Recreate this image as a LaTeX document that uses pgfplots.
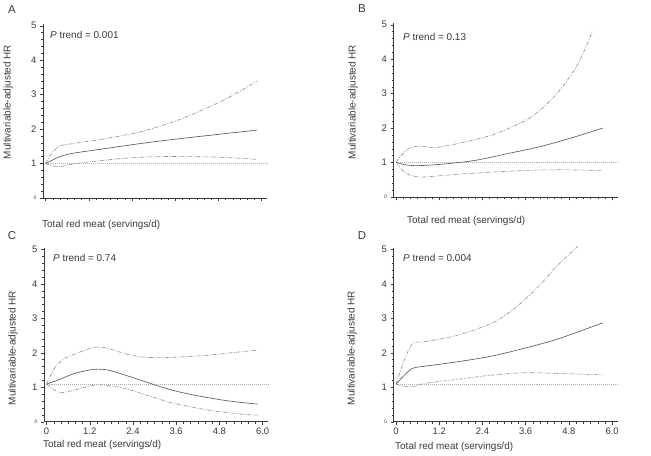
\documentclass[border=0pt]{standalone}
\usepackage{fontspec}
\setmainfont{Liberation Sans}
\usepackage{pgfplots}
\pgfplotsset{compat=1.18}

\definecolor{axgray}{HTML}{3A3A3A}
\definecolor{midc}{HTML}{5A5A5A}
\definecolor{cic}{HTML}{8F8F8F}
\definecolor{refc}{HTML}{B0B0B0}

\pgfplotsset{
 panel/.style={
  scale only axis, width=224bp, height=174bp,
  xmin=-0.07, xmax=6.15, ymin=0, ymax=5.05,
  axis lines=left, axis line style={-, axgray, line width=0.6pt},
  tick align=outside, tick style={axgray, line width=0.4pt},
  major tick length=3bp, minor tick length=2bp,
  xtick={0,1.2,2.4,3.6,4.8,6.0}, minor x tick num=5,
  ytick={0,1,2,3,4,5}, minor y tick num=4,
  yticklabels={{\fontsize{5}{5}\selectfont 0},1,2,3,4,5},
  tick label style={font=\fontsize{9.5}{11}\selectfont, text=axgray},
  /pgf/number format/assume math mode=true,
  clip=false,
 },
 midline/.style={midc, line width=0.65pt, smooth, no markers},
 ciline/.style={cic, line width=0.6pt, smooth, no markers, dash pattern=on 4pt off 1.5pt on 1pt off 1.5pt},
 refline/.style={refc, line width=0.6pt, no markers, dash pattern=on 0.8pt off 1.2pt},
}

\newcommand{\lab}{\fontsize{10}{12}\selectfont\color{axgray}}

\begin{document}
\begin{tikzpicture}
\useasboundingbox (0,0) rectangle (651bp,-456bp);

% ---------- A ----------
\begin{axis}[panel, at={(43bp,-198bp)}, anchor=south west, xticklabels={}]
\addplot[refline] coordinates {(0,1.01) (6.15,1.01)};
\addplot[ciline] coordinates {(0,1.0) (0.17,1.30) (0.40,1.51) (0.77,1.58) (1.70,1.73) (2.63,1.92) (3.55,2.21) (4.01,2.40) (4.48,2.61) (4.94,2.84) (5.40,3.10) (5.87,3.39)};
\addplot[midline] coordinates {(0,1.0) (0.40,1.20) (0.77,1.30) (1.70,1.44) (2.63,1.58) (3.55,1.70) (4.48,1.81) (5.87,1.97)};
\addplot[ciline] coordinates {(0,1.0) (0.17,0.94) (0.40,0.91) (0.77,0.99) (1.23,1.05) (2.16,1.15) (3.09,1.20) (4.01,1.20) (4.94,1.18) (5.87,1.12)};
\end{axis}

% ---------- B ----------
\begin{axis}[panel, at={(393.5bp,-197bp)}, anchor=south west, xticklabels={}]
\addplot[refline] coordinates {(0,1.01) (6.15,1.01)};
\addplot[ciline] coordinates {(0,1.01) (0.23,1.30) (0.46,1.45) (0.79,1.47) (1.07,1.43) (1.71,1.55) (2.64,1.79) (3.56,2.20) (4.03,2.55) (4.49,3.03) (4.95,3.68) (5.23,4.25) (5.46,4.83)};
\addplot[midline] coordinates {(0,1.01) (0.23,0.94) (0.60,0.91) (1.25,0.95) (2.18,1.06) (3.10,1.26) (4.03,1.47) (4.95,1.74) (5.74,2.00)};
\addplot[ciline] coordinates {(0,1.01) (0.23,0.72) (0.51,0.60) (0.79,0.58) (1.71,0.66) (2.64,0.72) (3.56,0.77) (4.49,0.79) (5.74,0.77)};
\end{axis}

% ---------- C ----------
\begin{axis}[panel, at={(44bp,-421.7bp)}, anchor=south west, xticklabels={0,1.2,2.4,3.6,4.8,6.0}]
\addplot[refline] coordinates {(0,1.09) (6.15,1.09)};
\addplot[ciline] coordinates {(0,1.09) (0.22,1.55) (0.50,1.84) (0.78,1.96) (1.33,2.16) (1.70,2.13) (2.16,1.98) (2.63,1.88) (3.09,1.86) (3.55,1.87) (4.48,1.93) (5.40,2.03) (5.87,2.08)};
\addplot[midline] coordinates {(0,1.09) (0.32,1.21) (0.78,1.40) (1.33,1.52) (1.70,1.50) (2.16,1.36) (2.63,1.20) (3.09,1.04) (3.55,0.90) (4.01,0.79) (4.48,0.70) (4.94,0.62) (5.40,0.56) (5.87,0.51)};
\addplot[ciline] coordinates {(0,1.09) (0.22,0.92) (0.41,0.84) (0.78,0.92) (1.33,1.06) (1.70,1.05) (2.16,0.97) (2.63,0.82) (3.09,0.67) (3.55,0.53) (4.48,0.34) (5.40,0.22) (5.87,0.19)};
\end{axis}

% ---------- D ----------
\begin{axis}[panel, at={(393.5bp,-421.7bp)}, anchor=south west, xticklabels={0,1.2,2.4,3.6,4.8,6.0}]
\addplot[refline] coordinates {(0,1.09) (6.15,1.09)};
\addplot[ciline] coordinates {(0,1.09) (0.23,1.79) (0.46,2.27) (0.79,2.32) (1.71,2.51) (2.64,2.85) (3.10,3.14) (3.56,3.53) (4.03,4.01) (4.49,4.54) (5.05,5.09)};
\addplot[midline] coordinates {(0,1.09) (0.23,1.35) (0.46,1.55) (0.79,1.61) (1.71,1.74) (2.64,1.90) (3.56,2.13) (4.49,2.40) (5.74,2.87)};
\addplot[ciline] coordinates {(0,1.09) (0.23,1.03) (0.46,1.01) (0.79,1.11) (1.71,1.23) (2.64,1.35) (3.56,1.42) (4.49,1.40) (5.74,1.36)};
\end{axis}

% ---------- texts ----------
\node[font=\fontsize{11.5}{13}\selectfont, text=axgray] at (12bp,-10bp) {A};
\node[font=\fontsize{11.5}{13}\selectfont, text=axgray] at (362bp,-9bp) {B};
\node[font=\fontsize{11.5}{13}\selectfont, text=axgray] at (12bp,-236bp) {C};
\node[font=\fontsize{11.5}{13}\selectfont, text=axgray] at (362bp,-236bp) {D};

\node[rotate=90, font=\lab] at (8bp,-102bp) {Multivariable-adjusted HR};
\node[rotate=90, font=\lab] at (353bp,-102bp) {Multivariable-adjusted HR};
\node[rotate=90, font=\lab] at (13bp,-348bp) {Multivariable-adjusted HR};
\node[rotate=90, font=\lab] at (352bp,-348bp) {Multivariable-adjusted HR};

\node[anchor=west, inner sep=0pt, font=\lab] at (42bp,-225bp) {Total red meat (servings/d)};
\node[anchor=west, inner sep=0pt, font=\lab] at (407bp,-221bp) {Total red meat (servings/d)};
\node[anchor=west, inner sep=0pt, font=\lab] at (43bp,-445bp) {Total red meat (servings/d)};
\node[anchor=west, inner sep=0pt, font=\lab] at (395bp,-447bp) {Total red meat (servings/d)};

\node[anchor=west, inner sep=0pt, font=\lab] at (50bp,-35bp) {\textit{P} trend = 0.001};
\node[anchor=west, inner sep=0pt, font=\lab] at (403bp,-37bp) {\textit{P} trend = 0.13};
\node[anchor=west, inner sep=0pt, font=\lab] at (53bp,-258bp) {\textit{P} trend = 0.74};
\node[anchor=west, inner sep=0pt, font=\lab] at (403bp,-258bp) {\textit{P} trend = 0.004};
\end{tikzpicture}
\end{document}
